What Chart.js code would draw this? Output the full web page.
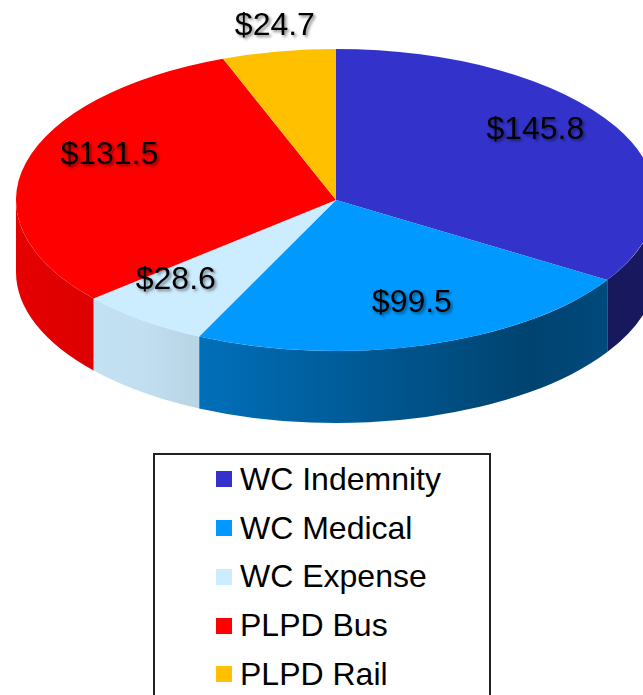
<!DOCTYPE html>
<html>
<head>
<meta charset="utf-8">
<script src="https://cdn.jsdelivr.net/npm/chart.js@4/dist/chart.umd.min.js"></script>
<style>
  body { margin: 0; background: #fff; font-family: "Liberation Sans", Arial, sans-serif; }
  #wrap { position: relative; width: 643px; height: 695px; overflow: hidden; }
  #pie { position: absolute; left: 0; top: 0; }
  #legend { position: absolute; left: 153px; top: 453px; width: 338px; height: 280px;
            border: 2px solid #222; box-sizing: border-box; }
  .item { display: flex; align-items: center; height: 48.75px; padding-left: 61px;
          font-size: 32px; color: #000; white-space: nowrap; }
  .item .box { width: 16px; height: 16px; margin-right: 8px; flex: none; }
</style>
</head>
<body>
<div id="wrap">
  <canvas id="pie" width="643" height="440"></canvas>
  <div id="legend"></div>
</div>
<script>
const labels = ['WC Indemnity', 'WC Medical', 'WC Expense', 'PLPD Bus', 'PLPD Rail'];
const values = [145.8, 99.5, 28.6, 131.5, 24.7];
const colors = ['#3333CC', '#0099FF', '#CCECFF', '#FF0000', '#FFC000'];

// where the tilted pie sits on the page
const PIE = { cx: 336, cy: 200, rx: 320, ry: 151, depth: 72, apexY: 180, g: 0.15 };
const LABEL_FONT = '32px "Liberation Sans", Arial, sans-serif';

function rgbOf(hex) {
  const n = parseInt(hex.slice(1), 16);
  return [(n >> 16) & 255, (n >> 8) & 255, n & 255];
}

function shade(hex, f) {
  const [r, g, b] = rgbOf(hex);
  return `rgb(${Math.round(r * f)},${Math.round(g * f)},${Math.round(b * f)})`;
}

// side walls get darker towards the right; pale colours darken less
function drawSides(ctx, arcs) {
  const x0 = PIE.cx - PIE.rx, x1 = PIE.cx + PIE.rx;
  const stops = [[0, .9], [.2, .84], [.27, .72], [.5, .58], [.8, .40], [1, .48]];
  arcs.forEach((arc, i) => {
    const a = Math.max(arc.startAngle, 0), b = Math.min(arc.endAngle, Math.PI);
    if (a >= b) return;
    const [r, g, bl] = rgbOf(colors[i]);
    const lum = Math.pow((0.2126 * r + 0.7152 * g + 0.0722 * bl) / 255, 4);
    const grad = ctx.createLinearGradient(x0, 0, x1, 0);
    stops.forEach(([t, f]) => grad.addColorStop(t, shade(colors[i], f + (1 - f) * lum)));
    ctx.fillStyle = grad;
    ctx.beginPath();
    ctx.ellipse(PIE.cx, PIE.cy, PIE.rx, PIE.ry, 0, a, b);
    ctx.ellipse(PIE.cx, PIE.cy + PIE.depth, PIE.rx, PIE.ry, 0, b, a, true);
    ctx.closePath();
    ctx.fill();
  });
}

// rough perspective of the disc, used to place the value labels
function project(theta, f) {
  const u = f * Math.cos(theta), v = f * Math.sin(theta);
  const w = 1 - PIE.g * v;
  const sx = PIE.rx * Math.sqrt(1 - PIE.g * PIE.g), sy = PIE.ry * (1 - PIE.g * PIE.g);
  return { x: PIE.cx + sx * u / w, y: PIE.apexY + sy * v / w };
}

function drawLabels(ctx, arcs) {
  ctx.save();
  ctx.font = LABEL_FONT;
  ctx.fillStyle = '#000';
  ctx.textAlign = 'center';
  ctx.textBaseline = 'alphabetic';
  ctx.shadowColor = 'rgba(0,0,0,0.45)';
  ctx.shadowBlur = 3;
  ctx.shadowOffsetX = 2;
  ctx.shadowOffsetY = 2;
  arcs.forEach((arc, i) => {
    const span = arc.endAngle - arc.startAngle;
    const mid = (arc.startAngle + arc.endAngle) / 2;
    const p = project(mid, span < 0.38 ? 1.28 : 0.76);
    ctx.fillText('$' + values[i].toFixed(1), p.x, p.y + 11);
  });
  ctx.restore();
}

const pie3d = {
  id: 'pie3d',
  beforeDatasetsDraw(chart) {
    const ctx = chart.ctx;
    const arcs = chart.getDatasetMeta(0).data;
    drawSides(ctx, arcs);
    const a = arcs[0];
    ctx.save();
    ctx.translate(PIE.cx, PIE.cy);
    ctx.scale(PIE.rx / a.outerRadius, PIE.ry / a.outerRadius);
    ctx.translate(-a.x, -a.y);
  },
  afterDatasetsDraw(chart) {
    chart.ctx.restore();
    drawLabels(chart.ctx, chart.getDatasetMeta(0).data);
  }
};

new Chart(document.getElementById('pie'), {
  type: 'pie',
  data: { labels, datasets: [{ data: values, backgroundColor: colors, borderWidth: 0, clip: false }] },
  options: {
    responsive: false,
    animation: false,
    events: [],
    layout: { padding: 0 },
    plugins: { legend: { display: false }, tooltip: { enabled: false } }
  },
  plugins: [pie3d]
});

const legend = document.getElementById('legend');
legend.innerHTML = labels.map((l, i) =>
  `<div class="item"><span class="box" style="background:${colors[i]}"></span>${l}</div>`).join('');
</script>
</body>
</html>
